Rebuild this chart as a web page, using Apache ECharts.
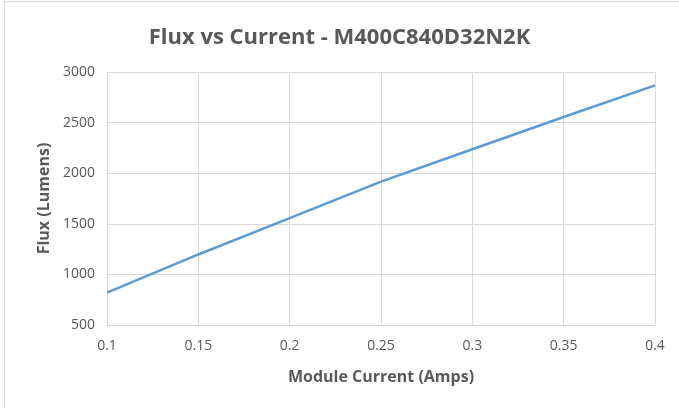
<!DOCTYPE html>
<html>
<head>
<meta charset="utf-8">
<script src="https://cdn.jsdelivr.net/npm/echarts@6/dist/echarts.min.js"></script>
<style>
html,body{margin:0;padding:0;background:#fff;}
#frame{position:absolute;left:4px;top:1px;width:700px;height:420px;border:1px solid #d9d9d9;}
#chart{position:absolute;left:0;top:0;width:679px;height:408px;}
</style>
</head>
<body>
<div id="frame"></div>
<div id="chart"></div>
<script>
var currents = [0.1, 0.15, 0.2, 0.25, 0.3, 0.35, 0.4];
var flux = [820, 1197, 1556, 1917, 2237, 2555, 2868];
var titleText = 'Flux vs Current - M400C840D32N2K';
var xName = 'Module Current (Amps)';
var yName = 'Flux (Lumens)';

var chart = echarts.init(document.getElementById('chart'));
var font = '"Open Sans", "Noto Sans", sans-serif';
chart.setOption({
  animation: false,
  title: {
    text: titleText,
    left: 'center',
    top: 22,
    textStyle: {fontFamily: font, fontSize: 22, fontWeight: 'bold', color: '#595959'}
  },
  grid: {left: 107, right: 24, top: 72, bottom: 83},
  xAxis: {
    type: 'value',
    min: 0.1, max: 0.4, interval: 0.05,
    name: xName,
    nameLocation: 'middle',
    nameGap: 44,
    nameTextStyle: {fontFamily: font, fontSize: 16, fontWeight: 'bold', color: '#595959'},
    axisLine: {show: true, lineStyle: {color: '#d9d9d9', width: 1}},
    axisTick: {show: false},
    splitLine: {show: true, lineStyle: {color: '#d9d9d9', width: 1}},
    axisLabel: {fontFamily: font, fontSize: 14, color: '#595959', margin: 14,
      formatter: function(v){ return String(Math.round(v*100)/100); }}
  },
  yAxis: {
    type: 'value',
    min: 500, max: 3000, interval: 500,
    name: yName,
    nameLocation: 'middle',
    nameGap: 55,
    nameTextStyle: {fontFamily: font, fontSize: 16, fontWeight: 'bold', color: '#595959'},
    axisLine: {show: false},
    axisTick: {show: false},
    splitLine: {show: true, lineStyle: {color: '#d9d9d9', width: 1}},
    axisLabel: {fontFamily: font, fontSize: 14, color: '#595959', margin: 12,
      formatter: function(v){ return String(v); }}
  },
  series: [{
    type: 'line',
    data: currents.map(function(c, i){ return [c, flux[i]]; }),
    showSymbol: false,
    lineStyle: {color: '#5b9bd5', width: 2.5},
    itemStyle: {color: '#5b9bd5'}
  }]
});
</script>
</body>
</html>
